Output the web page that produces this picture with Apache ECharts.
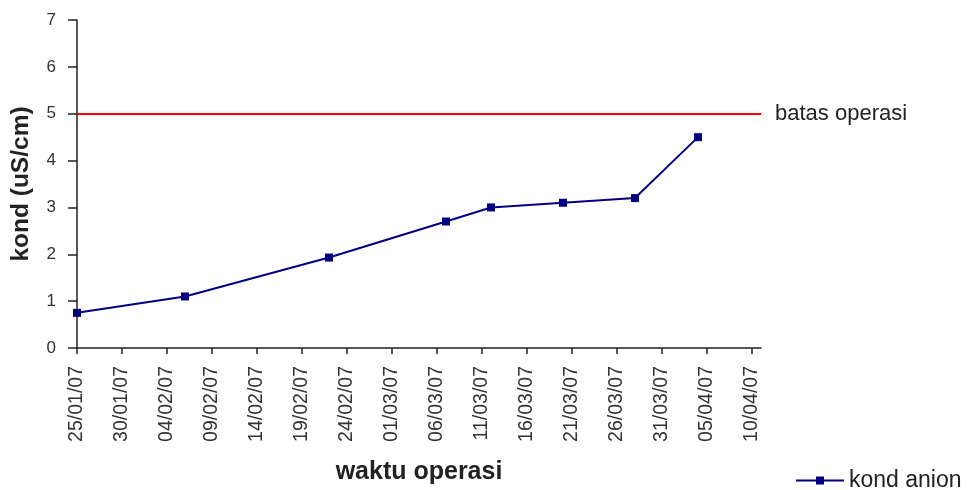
<!DOCTYPE html>
<html>
<head>
<meta charset="utf-8">
<script src="https://cdn.jsdelivr.net/npm/echarts@6/dist/echarts.min.js"></script>
<style>
    html, body { margin: 0; padding: 0; background: #fff; }
    #chart { width: 968px; height: 490px; }
</style>
</head>
<body>
<div id="chart"></div>
<script>
// measured dates (dd/mm/yy) and anion conductivity (uS/cm)
const sampleDates = ['25/01/07', '06/02/07', '22/02/07', '07/03/07', '12/03/07', '20/03/07', '28/03/07', '04/04/07'];
const kondAnion = [0.75, 1.1, 1.93, 2.7, 3.0, 3.1, 3.2, 4.5];

const tickDates = ['25/01/07', '30/01/07', '04/02/07', '09/02/07', '14/02/07', '19/02/07', '24/02/07',
    '01/03/07', '06/03/07', '11/03/07', '16/03/07', '21/03/07', '26/03/07', '31/03/07', '05/04/07', '10/04/07'];
const axisStart = '25/01/07';
const axisEnd = '11/04/07';
const yTicks = [0, 1, 2, 3, 4, 5, 6, 7];

const limitValue = 5;
const limitLabel = 'batas operasi';
const seriesName = 'kond anion';

// days counted from the first date on the axis
const DAY = 86400000;
const toDay = (s) => {
    const [d, m, y] = s.split('/').map(Number);
    const [d0, m0, y0] = axisStart.split('/').map(Number);
    return Math.round((Date.UTC(2000 + y, m - 1, d) - Date.UTC(2000 + y0, m0 - 1, d0)) / DAY);
};
const pad = (n) => (n < 10 ? '0' + n : '' + n);
const fmtDay = (v) => {
    const [d0, m0, y0] = axisStart.split('/').map(Number);
    const d = new Date(Date.UTC(2000 + y0, m0 - 1, d0) + v * DAY);
    return pad(d.getUTCDate()) + '/' + pad(d.getUTCMonth() + 1) + '/' + pad(d.getUTCFullYear() % 100);
};

const chartDom = document.getElementById('chart');
const myChart = echarts.init(chartDom, null, { renderer: 'canvas' });

const tickValues = tickDates.map(toDay);
const font = '"Liberation Sans", Arial, sans-serif';

const option = {
    animation: false,
    textStyle: { fontFamily: font },
    grid: { left: 77, right: 207, top: 20, bottom: 138 },
    legend: {
        data: [seriesName],
        left: 790,
        top: 464,
        itemWidth: 48,
        itemHeight: 10,
        itemGap: 5,
        textStyle: { fontSize: 23, color: '#222', fontFamily: font }
    },
    xAxis: {
        type: 'value',
        min: toDay(axisStart),
        max: toDay(axisEnd),
        name: 'waktu operasi',
        nameLocation: 'middle',
        nameGap: 112,
        nameTextStyle: { fontSize: 25, fontWeight: 'bold', color: '#222', fontFamily: font },
        axisLine: { lineStyle: { color: '#222', width: 1.5 } },
        axisTick: { show: true, length: 6, customValues: tickValues, lineStyle: { color: '#222', width: 1.5 } },
        axisLabel: {
            customValues: tickValues,
            rotate: 90,
            margin: 18,
            fontSize: 19.5,
            color: '#333',
            fontFamily: font,
            formatter: (v) => fmtDay(v)
        },
        splitLine: { show: false }
    },
    yAxis: {
        type: 'value',
        min: yTicks[0],
        max: yTicks[yTicks.length - 1],
        interval: 1,
        name: 'kond (uS/cm)',
        nameLocation: 'middle',
        nameGap: 43,
        nameTextStyle: { fontSize: 24.5, fontWeight: 'bold', color: '#222', fontFamily: font },
        axisLine: { show: true, lineStyle: { color: '#222', width: 1.5 } },
        axisTick: { show: true, length: 9, lineStyle: { color: '#222', width: 1.5 } },
        axisLabel: { margin: 21, fontSize: 17, color: '#333', fontFamily: font },
        splitLine: { show: false }
    },
    series: [
        {
            name: seriesName,
            type: 'line',
            data: sampleDates.map((d, i) => [toDay(d), kondAnion[i]]),
            symbol: 'rect',
            symbolSize: 8,
            showSymbol: true,
            lineStyle: { color: '#000080', width: 2 },
            itemStyle: { color: '#000080' },
            markLine: {
                silent: true,
                symbol: 'none',
                data: [{ yAxis: limitValue }],
                lineStyle: { color: '#ff0000', type: 'solid', width: 2 },
                label: {
                    show: true,
                    position: 'end',
                    distance: 14,
                    padding: [0, 0, 16, 0],
                    formatter: limitLabel,
                    fontSize: 22,
                    color: '#222',
                    fontFamily: font
                }
            }
        }
    ]
};

myChart.setOption(option);
</script>
</body>
</html>
